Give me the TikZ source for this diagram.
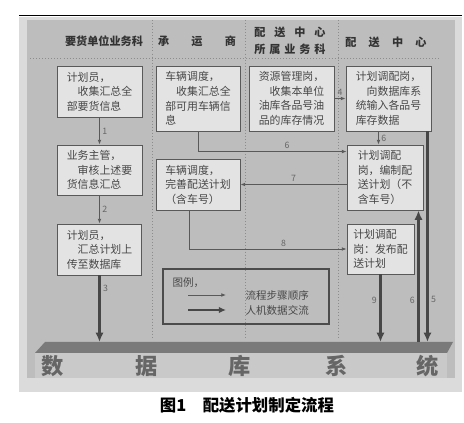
\documentclass[tikz,border=0pt]{standalone}
\usepackage{fontspec}
\setmainfont{Noto Sans CJK SC}
\usetikzlibrary{arrows.meta,calc,positioning}

\definecolor{panelgray}{gray}{0.74}
\definecolor{framegray}{gray}{0.86}
\definecolor{boxgray}{gray}{0.89}
\definecolor{bandgray}{gray}{0.79}

\tikzset{
  box/.style={draw=black!65, fill=boxgray, line width=0.8pt, align=left, inner sep=2pt,
    font=\fontsize{9.3}{12.4}\selectfont, text=black!72},
  flow/.style={draw=black!65, line width=0.7pt, -{Latex[length=4pt,width=3.2pt]}},
  datalink/.style={draw=black!72, line width=2.2pt, -{Latex[length=8pt,width=7pt]}},
  lab/.style={font=\fontsize{7.5}{8}\selectfont, text=black!60, inner sep=2pt},
  lane/.style={black!45, dotted, line width=0.6pt},
  head/.style={font=\fontsize{9.5}{14}\selectfont\bfseries, text=black!80, align=center},
  dbtext/.style={font=\fontsize{19}{20}\selectfont\bfseries, text=black!60},
}

\begin{document}
\begin{tikzpicture}[x=0.03cm, y=-0.03cm]
\useasboundingbox (0,0) rectangle (464,423);

% background panel
\fill[framegray] (19,17) rectangle (462,392);
\fill[panelgray] (27,20) rectangle (455,378);
\draw[line width=0.8pt] (19,15) -- (462,15);

% swim lanes
\draw[lane] (30,58) -- (440,58);
\foreach \x in {152,245,338}
  \draw[lane] (\x,20) -- (\x,338);

% lane headers
\node[head] (h1) at (104,41) {要货单位业务科};
\node[head] (h2) at (197,41) {承\hspace{2em}运\hspace{2em}商};
\node[head] (h3) at (290,41) {配\hspace{0.8em}送\hspace{0.8em}中\hspace{0.8em}心\\所\hspace{0.35em}属\hspace{0.35em}业\hspace{0.35em}务\hspace{0.35em}科};
\node[head] (h4) at (386,42) {配\hspace{1.1em}送\hspace{1.1em}中\hspace{1.1em}心};

% database
\fill[bandgray] (35,353) rectangle (447,378);
\fill[black!52] (45,342) -- (453,342) -- (447,353) -- (35,353) -- cycle;
\coordinate (db) at (0,342);
\node[dbtext] (d1) at (53,366) {数};
\node[dbtext] (d2) at (147,366) {据};
\node[dbtext] (d3) at (240,366) {库};
\node[dbtext] (d4) at (337,366) {系};
\node[dbtext] (d5) at (428,366) {统};

% steps
\node[box, minimum width=2.55cm, minimum height=1.53cm] (b1) at (99.5,91.5)
  {计划员，\\　收集汇总全\\部要货信息};
\node[box, minimum width=2.52cm, minimum height=1.95cm] (b2) at (198,98.5)
  {车辆调度，\\　收集汇总全\\部可用车辆信\\息};
\node[box, minimum width=2.55cm, minimum height=1.95cm] (b3) at (291.5,98.5)
  {资源管理岗，\\　收集本单位\\油库各品号油\\品的库存情况};
\node[box, minimum width=2.55cm, minimum height=1.95cm] (b4) at (388.5,98.5)
  {计划调配岗，\\　向数据库系\\统输入各品号\\库存数据};
\node[box, minimum width=2.55cm, minimum height=1.5cm] (b5) at (99.5,170)
  {业务主管，\\　审核上述要\\货信息汇总};
\node[box, minimum width=2.52cm, minimum height=1.53cm] (b6) at (99.5,249.5)
  {计划员，\\　汇总计划上\\传至数据库};
\node[box, minimum width=2.52cm, minimum height=1.53cm] (b7) at (198,184.5)
  {车辆调度，\\完善配送计划\\（含车号）};
\node[box, minimum width=2.28cm, minimum height=1.95cm] (b8) at (385,177.5)
  {计划调配\\岗，编制配\\送计划（不\\含车号）};
\node[box, minimum width=2.01cm, minimum height=1.5cm] (b9) at (380.5,249)
  {计划调配\\岗：发布配\\送计划};

% legend
\draw[draw=black!70, line width=1.4pt] (163,269) rectangle (329,324);
\node[lab, font=\fontsize{9}{10}\selectfont, text=black!72, anchor=west] (lg) at (170,283) {图例，};
\coordinate (l1a) at (188,295);
\coordinate (l1b) at (226,295);
\coordinate (l2a) at (188,310);
\coordinate (l2b) at (226,310);
\draw[flow] (l1a) -- (l1b);
\draw[datalink, -{Latex[length=6pt,width=5.5pt]}, line width=1.8pt] (l2a) -- (l2b);
\node[lab, font=\fontsize{9}{10}\selectfont, text=black!72, anchor=west] (lt1) at (243,295) {流程步骤顺序};
\node[lab, font=\fontsize{9}{10}\selectfont, text=black!72, anchor=west] (lt2) at (243,310) {人机数据交流};

% process flow
\draw[flow] (b1.south) -- node[lab,right]{1} (b5.north);
\draw[flow] (b5.south) -- node[lab,right]{2} (b6.north);
\draw[flow] (b3.east) -- node[lab,above]{4} (b4.west);
\draw[flow] ($(b4.south)+(-10,0)$) coordinate (t6) -- node[lab,right]{6} (t6 |- b8.north);
\draw[flow] (b2.south) |- node[lab,above,pos=0.8]{6} ($(b8.north west)+(0,7)$);
\draw[flow] (b8.west |- b7.east) -- node[lab,above]{7} (b7.east);
\draw[flow] ($(b7.south)+(-9,0)$) |- node[lab,above,pos=0.8]{8} (b9.west);

% data exchange
\draw[datalink] (b6.south) -- node[lab,right,pos=0.2]{3} (b6.south |- db);
\draw[datalink] (b9.south) -- node[lab,left,pos=0.38]{9} (b9.south |- db);
\coordinate (u6) at ($(b8.south east)+(-5,0)$);
\draw[datalink] (u6 |- db) -- node[lab,left,pos=0.32]{6} (u6);
\draw[datalink] ($(b4.south east)+(-4,0)$) coordinate (d5) -- node[lab,right,pos=0.8]{5} (d5 |- db);

% caption
\node[font=\fontsize{14}{16}\selectfont\bfseries] (cap) at (247,405) {图1\hspace{1em}配送计划制定流程};
\end{tikzpicture}
\end{document}
